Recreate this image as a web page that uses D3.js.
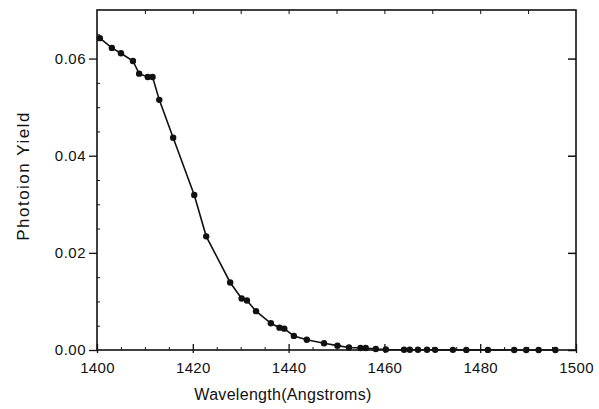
<!DOCTYPE html>
<html><head><meta charset="utf-8">
<script src="https://cdn.jsdelivr.net/npm/d3@7"></script>
<style>body{margin:0;background:#fff}svg{display:block}text{font-family:"Liberation Sans",Arial,sans-serif;fill:#111}</style>
</head><body><svg id="c" width="599" height="409"></svg>
<script>
const wavelength = [1400.6,1403.1,1405.0,1407.5,1408.8,1410.6,1411.6,1413.0,1415.9,1420.3,1422.8,1427.8,1430.2,1431.3,1433.2,1436.3,1438.1,1439.1,1441.1,1443.8,1447.4,1450.2,1452.6,1455.0,1456.1,1458.2,1460.3,1464.1,1465.3,1467.0,1468.9,1470.6,1474.3,1477.1,1481.6,1487.1,1489.6,1492.2,1495.7];
const yieldVals = [0.0642,0.0622,0.0611,0.0595,0.0569,0.0562,0.0562,0.0515,0.0437,0.0319,0.0234,0.0139,0.0106,0.0102,0.0080,0.0055,0.0046,0.0044,0.0029,0.0021,0.0014,0.0009,0.0005,0.0004,0.0004,0.0002,0.0001,0.00005,0.00005,0.00004,0.00004,0.00003,0.00003,0.00002,0.00002,0.00001,0.00001,0.00001,0.00001];
const xTicks = [1400,1420,1440,1460,1480,1500];
const yTicks = [0.00,0.02,0.04,0.06];
const xLabel = "Wavelength(Angstroms)";
const yLabel = "Photoion Yield";

const svg = d3.select("#c");
const L=97,R=576,T=10,B=350;
const x = d3.scaleLinear().domain([1400,1500]).range([L,R]);
const y = d3.scaleLinear().domain([0,0.07]).range([B,T]);
const g = svg.append("g");
g.append("rect").attr("x",L).attr("y",T).attr("width",R-L).attr("height",B-T).attr("fill","none").attr("stroke","#111").attr("stroke-width",1.6);
const bx = svg.append("g").attr("transform",`translate(0,${B})`)
  .call(d3.axisBottom(x).tickValues(xTicks).tickFormat(d3.format("d")).tickSize(-6).tickPadding(10));
bx.select(".domain").remove();
bx.selectAll(".tick line").attr("stroke","#111").attr("stroke-width",1.3).attr("y2",-6);
bx.selectAll(".tick").append("line").attr("y1",0).attr("y2",3).attr("stroke","#111").attr("stroke-width",1.3);
bx.selectAll("text").attr("font-size",15).attr("letter-spacing",0.3).attr("dy","0.85em");
const bxm = svg.append("g").attr("transform",`translate(0,${B})`)
  .call(d3.axisBottom(x).tickValues(d3.range(1405,1500,5).filter(v=>v%20)).tickSize(-3).tickFormat(""));
bxm.select(".domain").remove(); bxm.selectAll("line").attr("stroke","#111");
const tx = svg.append("g").attr("transform",`translate(0,${T})`)
  .call(d3.axisTop(x).tickValues(d3.range(1410,1500,10)).tickSize(-4).tickFormat(""));
tx.select(".domain").remove(); tx.selectAll("line").attr("stroke","#111");
const ly = svg.append("g").attr("transform",`translate(${L},0)`)
  .call(d3.axisLeft(y).tickValues(yTicks).tickFormat(d3.format(".2f")).tickSize(8).tickPadding(3));
ly.select(".domain").remove();
ly.selectAll(".tick line").attr("stroke","#111").attr("stroke-width",1.3);
ly.selectAll("text").attr("font-size",15).attr("letter-spacing",0.5);
const lym = svg.append("g").attr("transform",`translate(${L},0)`)
  .call(d3.axisLeft(y).tickValues(d3.range(0.005,0.07,0.005).filter((v,i)=>i%4!==3)).tickSize(-3).tickFormat(""));
lym.select(".domain").remove(); lym.selectAll("line").attr("stroke","#111");
const ry = svg.append("g").attr("transform",`translate(${R},0)`)
  .call(d3.axisRight(y).tickValues(yTicks).tickSize(-8).tickFormat(""));
ry.select(".domain").remove(); ry.selectAll("line").attr("stroke","#111").attr("stroke-width",1.5);
svg.append("text").attr("x",283).attr("y",400).attr("text-anchor","middle").attr("font-size",16).attr("letter-spacing",0.3).text(xLabel);
svg.append("text").attr("transform",`translate(29,176) rotate(-90)`).attr("text-anchor","middle").attr("font-size",17).attr("letter-spacing",1.5).text(yLabel);
const pts = wavelength.map((w,i)=>[w,yieldVals[i]]);
svg.append("path").datum(pts).attr("fill","none").attr("stroke","#111").attr("stroke-width",1.6)
  .attr("d",d3.line().x(d=>x(d[0])).y(d=>y(d[1])));
svg.append("g").selectAll("circle").data(pts).join("circle")
  .attr("cx",d=>x(d[0])).attr("cy",d=>y(d[1])).attr("r",3.2).attr("fill","#111");
</script></body></html>
